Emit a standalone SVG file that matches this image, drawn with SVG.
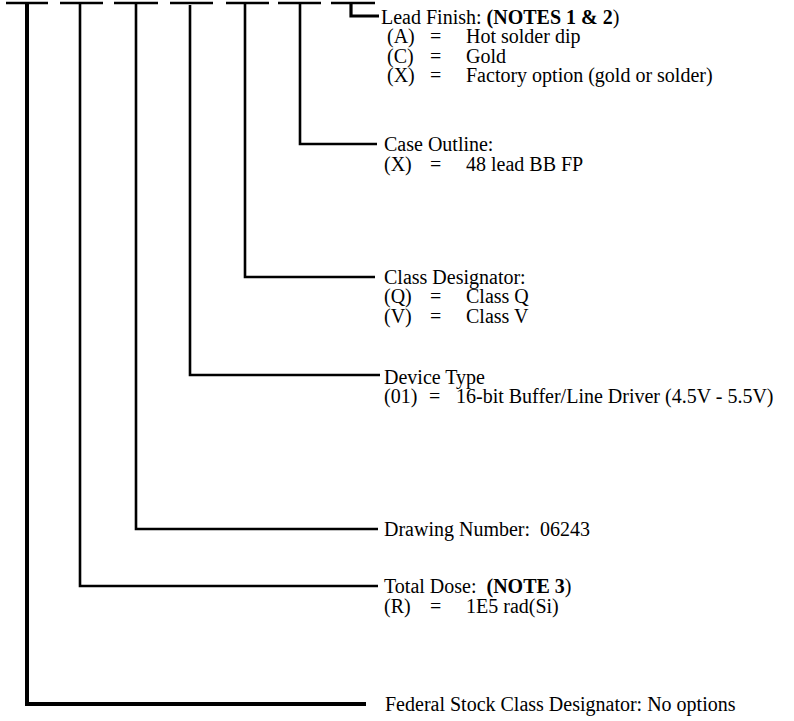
<svg xmlns="http://www.w3.org/2000/svg" width="794" height="721" viewBox="0 0 794 721">
<style>
.ln{fill:none;stroke:#000;stroke-width:2.6;stroke-linecap:butt;stroke-linejoin:miter}
.thk{stroke-width:4}
.mid{stroke-width:3.2}
text{font-family:"Liberation Serif","Times New Roman",serif;font-size:20px;fill:#000;white-space:pre}
.b{font-weight:bold}
</style>
<rect width="794" height="721" fill="#fff"/>
<g id="connectors">
<path class="ln" d="M6 3H48M60 3H103M114 3H158M170 3H213M226 3H269M278 3H321M331 3H375"/>
<path class="ln thk" d="M27 3V704H366"/>
<path class="ln" d="M80 3V586H378"/>
<path class="ln" d="M136 3V529H378"/>
<path class="ln" d="M190 5V375H380"/>
<path class="ln" d="M245 3V277H375"/>
<path class="ln" d="M300 3V144H377"/>
<path class="ln mid" d="M351 3V16H379"/>
</g>
<g id="lead-finish">
<text xml:space="preserve"><tspan x="381" y="23.5">Lead Finish: </tspan><tspan class="b">(NOTES 1 &amp; 2</tspan><tspan>)</tspan><tspan x="387" y="43">(A)</tspan><tspan x="430" y="43">=</tspan><tspan x="466" y="43">Hot solder dip</tspan><tspan x="387" y="62.5">(C)</tspan><tspan x="430" y="62.5">=</tspan><tspan x="466" y="62.5">Gold</tspan><tspan x="387" y="82">(X)</tspan><tspan x="430" y="82">=</tspan><tspan x="466" y="82">Factory option (gold or solder)</tspan></text>
</g>
<g id="case-outline">
<text><tspan x="384" y="151">Case Outline:</tspan><tspan x="384" y="170.5">(X)</tspan><tspan x="430" y="170.5">=</tspan><tspan x="466" y="170.5">48 lead BB FP</tspan></text>
</g>
<g id="class-designator">
<text><tspan x="384" y="283.5">Class Designator:</tspan><tspan x="384" y="303">(Q)</tspan><tspan x="430" y="303">=</tspan><tspan x="466" y="303">Class Q</tspan><tspan x="384" y="322.5">(V)</tspan><tspan x="430" y="322.5">=</tspan><tspan x="466" y="322.5">Class V</tspan></text>
</g>
<g id="device-type">
<text><tspan x="384" y="383.5">Device Type</tspan><tspan x="384" y="403">(01)</tspan><tspan x="429" y="403">=</tspan><tspan x="456" y="403">16-bit Buffer/Line Driver (4.5V - 5.5V)</tspan></text>
</g>
<g id="drawing-number">
<text x="384" y="536" xml:space="preserve">Drawing Number:  06243</text>
</g>
<g id="total-dose">
<text xml:space="preserve"><tspan x="384" y="593">Total Dose:  </tspan><tspan class="b">(NOTE 3</tspan><tspan>)</tspan><tspan x="384" y="612.5">(R)</tspan><tspan x="430" y="612.5">=</tspan><tspan x="466" y="612.5">1E5 rad(Si)</tspan></text>
</g>
<g id="federal-stock">
<text x="385" y="711">Federal Stock Class Designator: No options</text>
</g>
</svg>
